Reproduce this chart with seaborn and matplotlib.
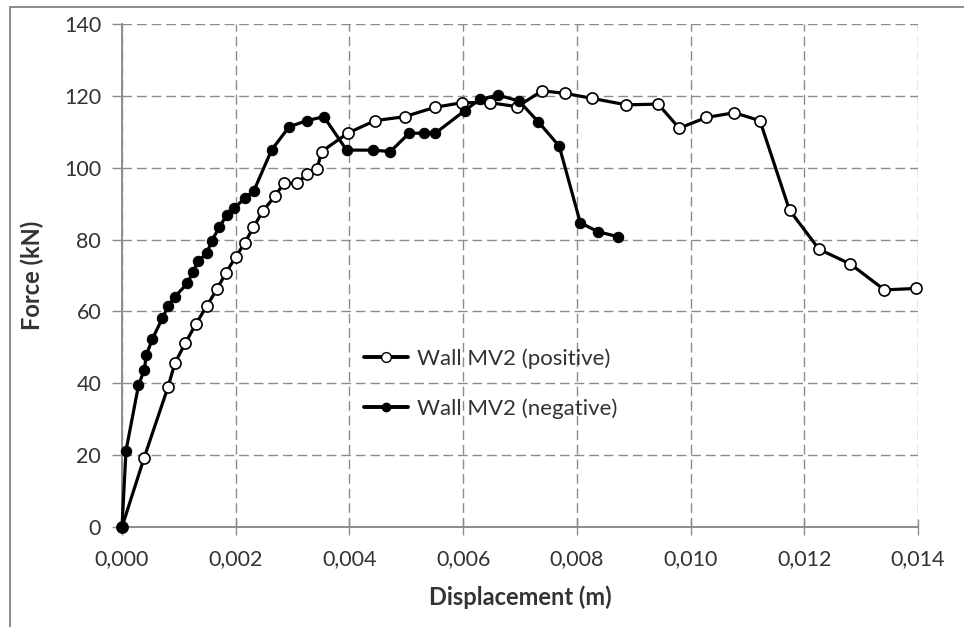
import matplotlib
matplotlib.use("Agg")
import matplotlib.pyplot as plt
import matplotlib.ticker as mticker
from matplotlib.lines import Line2D
import seaborn as sns
import pandas as pd

# Wall MV2 cyclic test envelope: displacement (m) vs lateral force (kN)
pos_disp = [0.0, 0.00039, 0.00081, 0.00093, 0.00111, 0.00130, 0.00149, 0.00167,
            0.00183, 0.00200, 0.00216, 0.00231, 0.00248, 0.00269, 0.00285, 0.00307,
            0.00326, 0.00343, 0.00351, 0.00398, 0.00445, 0.00497, 0.00550, 0.00598,
            0.00647, 0.00695, 0.00739, 0.00779, 0.00827, 0.00887, 0.00943, 0.00980,
            0.01028, 0.01077, 0.01122, 0.01174, 0.01226, 0.01281, 0.01341, 0.01397]
pos_force = [0, 19.3, 39.0, 45.6, 51.1, 56.5, 61.5, 66.2,
             70.8, 75.2, 79.1, 83.4, 88.0, 92.1, 95.7, 95.7,
             98.2, 99.6, 104.5, 109.7, 113.1, 114.2, 116.8, 118.1,
             118.1, 117.0, 121.4, 120.7, 119.3, 117.5, 117.7, 111.0,
             114.0, 115.3, 113.1, 88.2, 77.3, 73.2, 66.0, 66.4]

neg_disp = [0.0, 0.00007, 0.00029, 0.00039, 0.00043, 0.00053, 0.00071, 0.00081,
            0.00093, 0.00115, 0.00125, 0.00134, 0.00149, 0.00158, 0.00171, 0.00184,
            0.00197, 0.00216, 0.00232, 0.00263, 0.00294, 0.00325, 0.00355, 0.00395,
            0.00441, 0.00472, 0.00505, 0.00531, 0.00551, 0.00603, 0.00629, 0.00661,
            0.00698, 0.00732, 0.00769, 0.00806, 0.00837, 0.00872]
neg_force = [0, 21.2, 39.4, 43.7, 47.9, 52.2, 58.1, 61.5,
             64.1, 67.8, 71.1, 74.0, 76.2, 79.7, 83.4, 86.8,
             88.7, 91.5, 93.6, 104.9, 111.4, 113.1, 114.2, 104.9,
             104.9, 104.5, 109.6, 109.6, 109.6, 115.9, 119.0, 120.2,
             118.6, 112.8, 106.0, 84.7, 82.2, 80.8]

series_labels = ["Wall MV2 (positive)", "Wall MV2 (negative)"]
x_ticks = [0.000, 0.002, 0.004, 0.006, 0.008, 0.010, 0.012, 0.014]
y_ticks = [0, 20, 40, 60, 80, 100, 120, 140]

sns.set_theme(style="white")
plt.rcParams["font.family"] = ["Lato", "DejaVu Sans"]

fig = plt.figure(figsize=(9.64, 6.27), dpi=100)
ax = fig.add_axes([122 / 964, 1 - 527 / 627, (918 - 122) / 964, (527 - 24) / 627])

# outer chart frame (top and left edges visible)
frame = plt.Rectangle((10 / 964, -0.1), 1.2, 1 - 7 / 627 + 0.1,
                      transform=fig.transFigure, fill=False,
                      edgecolor="#8a8a8a", linewidth=1.4, zorder=-5)
fig.add_artist(frame)

df_pos = pd.DataFrame({"disp": pos_disp, "force": pos_force})
df_neg = pd.DataFrame({"disp": neg_disp, "force": neg_force})

sns.lineplot(data=df_pos, x="disp", y="force", ax=ax, sort=False, estimator=None,
             color="black", linewidth=2.3, marker="o", markersize=8,
             markerfacecolor="white", markeredgecolor="black", markeredgewidth=1.2,
             zorder=3, clip_on=False)
sns.lineplot(data=df_neg, x="disp", y="force", ax=ax, sort=False, estimator=None,
             color="black", linewidth=2.3, marker="o", markersize=7.5,
             markerfacecolor="black", markeredgecolor="black",
             zorder=4, clip_on=False)

ax.set_xlim(0, 0.014)
ax.set_ylim(0, 140)
ax.set_xticks(x_ticks)
ax.set_yticks(y_ticks)
ax.xaxis.set_major_formatter(mticker.FuncFormatter(lambda v, p: f"{v:.3f}".replace(".", ",")))
ax.yaxis.set_major_formatter(mticker.FuncFormatter(lambda v, p: f"{v:.0f}"))

ax.grid(True, linestyle=(0, (7, 3.5)), color="#8c8c8c", linewidth=1.0)
for side in ["top", "right"]:
    ax.spines[side].set_visible(False)
for side in ["left", "bottom"]:
    ax.spines[side].set_color("#8c8c8c")
    ax.spines[side].set_linewidth(1.4)

ax.tick_params(axis="y", which="major", direction="out", length=7, width=1,
               color="#8c8c8c", labelsize=15.5, labelcolor="#333333", pad=8, left=True)
ax.tick_params(axis="x", which="major", direction="inout", length=12, width=1,
               color="#8c8c8c", labelsize=15.5, labelcolor="#333333", pad=10, bottom=True)

ax.set_xlabel("Displacement (m)", fontsize=17, fontweight="bold", color="#333333", labelpad=12)
ax.set_ylabel("Force (kN)", fontsize=17, fontweight="bold", color="#333333", labelpad=14)

handles = [
    Line2D([], [], color="black", linewidth=2.8, marker="o", markersize=7,
           markerfacecolor="white", markeredgecolor="black", markeredgewidth=1.0),
    Line2D([], [], color="black", linewidth=2.8, marker="o", markersize=6,
           markerfacecolor="black", markeredgecolor="black"),
]
ax.legend(handles, series_labels, loc="upper left",
          bbox_to_anchor=((344 - 122) / (918 - 122), (527 - 328) / (527 - 24)),
          frameon=False, fontsize=16, handlelength=2.0, handletextpad=0.4,
          labelspacing=1.35, labelcolor="#333333")

fig.savefig("out.png", dpi=100)
